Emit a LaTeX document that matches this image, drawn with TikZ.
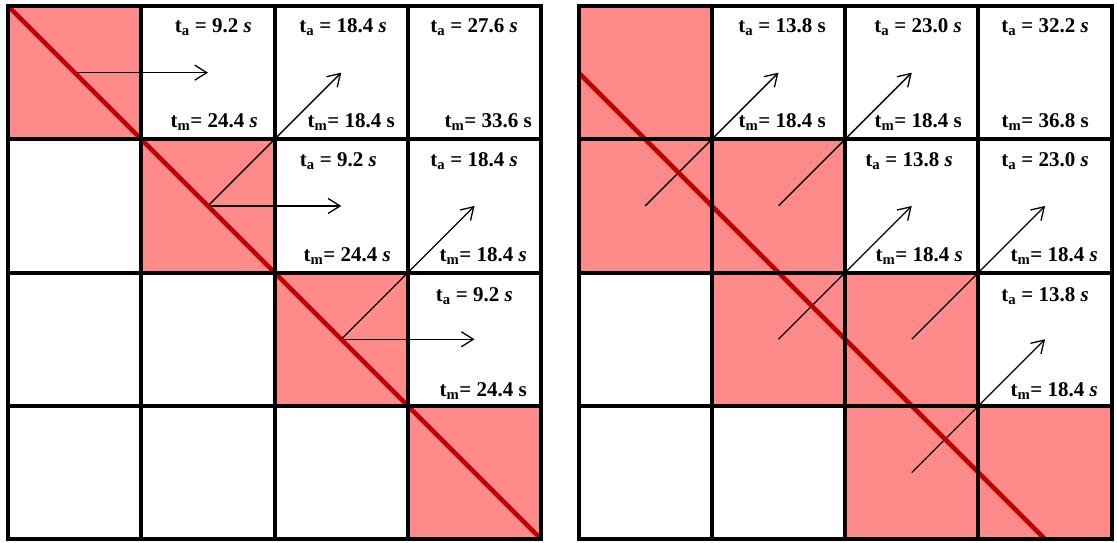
\documentclass[tikz,border=0pt]{standalone}
\usepackage{fontspec}
\setmainfont{Liberation Serif}
\usetikzlibrary{arrows.meta}
\definecolor{pinkc}{HTML}{FF8A8A}
\definecolor{redl}{HTML}{C00000}
\begin{document}
\begin{tikzpicture}[x=1pt,y=-1pt,
  cellbox/.style={rectangle,minimum size=133.3pt,inner sep=0pt,outer sep=0pt},
  gridline/.style={line width=4pt,black},
  diag/.style={line width=4.5pt,redl},
  flow/.style={line width=1.3pt,black,-{Straight Barb[length=12pt,width=15pt]}},
  lab/.style={anchor=base east,inner sep=0pt,font=\fontsize{21}{25}\selectfont\bfseries}]
\useasboundingbox (0,0) rectangle (1117,542);
\foreach \r in {0,...,3}{\foreach \c in {0,...,3}{
  \node[cellbox] (L-\r-\c) at ({8+133.3*(\c+0.5)},{6+133.3*(\r+0.5)}) {};
  \node[cellbox] (R-\r-\c) at ({578.5+133.3*(\c+0.5)},{6+133.3*(\r+0.5)}) {};
}}
\foreach \n in {L-0-0,L-1-1,L-2-2,L-3-3,R-0-0,R-1-0,R-1-1,R-2-1,R-2-2,R-3-2,R-3-3}
  \fill[pinkc] (\n.north west) rectangle (\n.south east);
% arrows left
\draw[flow] (L-0-0.center) -- (L-0-1.center);
\draw[flow] (L-1-1.center) -- (L-0-2.center);
\draw[flow] (L-1-1.center) -- (L-1-2.center);
\draw[flow] (L-2-2.center) -- (L-1-3.center);
\draw[flow] (L-2-2.center) -- (L-2-3.center);
% arrows right
\draw[flow] (R-1-0.center) -- (R-0-1.center);
\draw[flow] (R-1-1.center) -- (R-0-2.center);
\draw[flow] (R-2-1.center) -- (R-1-2.center);
\draw[flow] (R-2-2.center) -- (R-1-3.center);
\draw[flow] (R-3-2.center) -- (R-2-3.center);
% diagonals
\draw[diag] (L-0-0.north west) -- (L-3-3.south east);
\draw[diag] (R-0-0.west) -- (R-3-3.south);
% grid
\foreach \r in {0,...,3}{\foreach \c in {0,...,3}{
  \draw[gridline] (L-\r-\c.north west) rectangle (L-\r-\c.south east);
  \draw[gridline] (R-\r-\c.north west) rectangle (R-\r-\c.south east);
}}
% labels left
\node[lab] (La-0-1) at (252,32) {t\textsubscript{a} = 9.2 \textit{s}};
\node[lab] (Lm-0-1) at (258,127) {t\textsubscript{m}= 24.4 \textit{s}};
\node[lab] (La-0-2) at (387,32) {t\textsubscript{a} = 18.4 \textit{s}};
\node[lab] (Lm-0-2) at (395,127) {t\textsubscript{m}= 18.4 s};
\node[lab] (La-0-3) at (518,32) {t\textsubscript{a} = 27.6 \textit{s}};
\node[lab] (Lm-0-3) at (532,127) {t\textsubscript{m}= 33.6 s};
\node[lab] (La-1-2) at (377,166) {t\textsubscript{a} = 9.2 \textit{s}};
\node[lab] (Lm-1-2) at (391,261) {t\textsubscript{m}= 24.4 \textit{s}};
\node[lab] (La-1-3) at (518,166) {t\textsubscript{a} = 18.4 \textit{s}};
\node[lab] (Lm-1-3) at (527,261) {t\textsubscript{m}= 18.4 \textit{s}};
\node[lab] (La-2-3) at (513,301) {t\textsubscript{a} = 9.2 \textit{s}};
\node[lab] (Lm-2-3) at (527,396) {t\textsubscript{m}= 24.4 s};
% labels right
\node[lab] (Ra-0-1) at (826,32) {t\textsubscript{a} = 13.8 s};
\node[lab] (Rm-0-1) at (826,127) {t\textsubscript{m}= 18.4 s};
\node[lab] (Ra-0-2) at (962,32) {t\textsubscript{a} = 23.0 \textit{s}};
\node[lab] (Rm-0-2) at (962,127) {t\textsubscript{m}= 18.4 s};
\node[lab] (Ra-0-3) at (1089,32) {t\textsubscript{a} = 32.2 \textit{s}};
\node[lab] (Rm-0-3) at (1089,127) {t\textsubscript{m}= 36.8 s};
\node[lab] (Ra-1-2) at (953,166) {t\textsubscript{a} = 13.8 \textit{s}};
\node[lab] (Rm-1-2) at (963,261) {t\textsubscript{m}= 18.4 \textit{s}};
\node[lab] (Ra-1-3) at (1089,166) {t\textsubscript{a} = 23.0 \textit{s}};
\node[lab] (Rm-1-3) at (1098,261) {t\textsubscript{m}= 18.4 \textit{s}};
\node[lab] (Ra-2-3) at (1089,301) {t\textsubscript{a} = 13.8 \textit{s}};
\node[lab] (Rm-2-3) at (1098,396) {t\textsubscript{m}= 18.4 \textit{s}};
\end{tikzpicture}
\end{document}
